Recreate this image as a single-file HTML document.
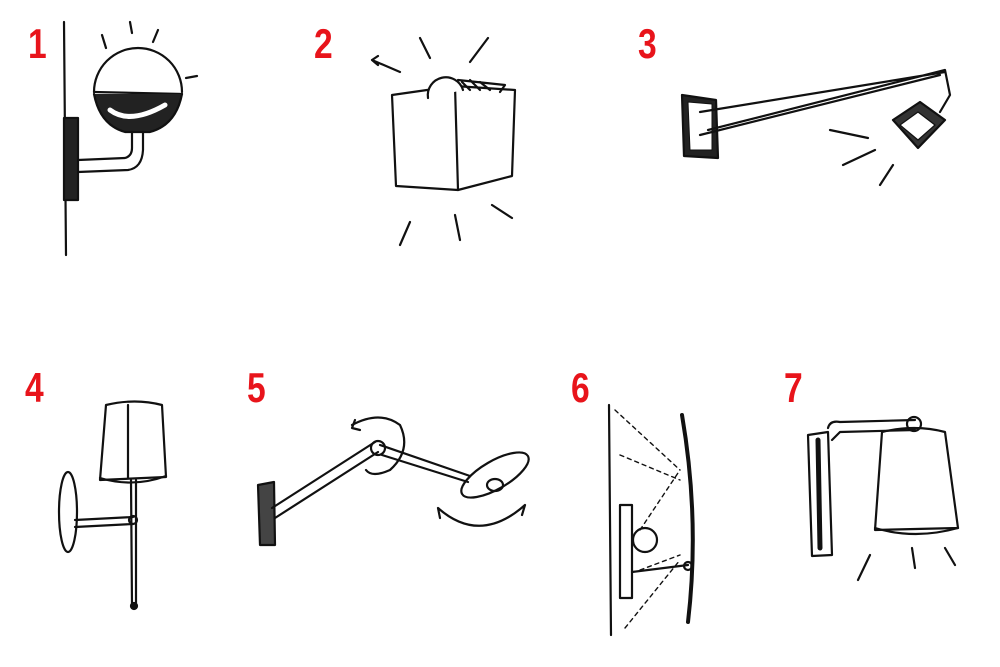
<!DOCTYPE html>
<html><head><meta charset="utf-8"><style>
html,body{margin:0;padding:0;background:#fff;width:1000px;height:667px;overflow:hidden}
svg{display:block}
.n{font-family:"Liberation Sans Narrow","Liberation Sans",sans-serif;font-weight:bold;font-size:42px;fill:#e8141b}
</style></head><body>
<svg width="1000" height="667" viewBox="0 0 1000 667" xmlns="http://www.w3.org/2000/svg">
<g class="n">
<text transform="translate(28,58) scale(0.8,1)">1</text>
<text transform="translate(314,58) scale(0.8,1)">2</text>
<text transform="translate(638,58) scale(0.8,1)">3</text>
<text transform="translate(25,402) scale(0.8,1)">4</text>
<text transform="translate(247,402) scale(0.8,1)">5</text>
<text transform="translate(571,402) scale(0.8,1)">6</text>
<text transform="translate(784,402) scale(0.8,1)">7</text>
</g>
<g fill="none" stroke="#111" stroke-width="2.2" stroke-linecap="round" stroke-linejoin="round">
<!-- Lamp 1 -->
<path d="M64 22 L66 255"/>
<path d="M94 92 A44 44 0 0 1 182 92"/>
<path d="M94 92 L182 94"/>
<path d="M94 94 Q100 125 125 132 L150 132 Q176 125 182 94" fill="#222"/>
<path d="M110 110 Q130 125 165 105" stroke="#fff" stroke-width="5"/>
<rect x="64" y="118" width="14" height="82" fill="#222"/>
<path d="M78 160 L125 158 Q132 156 132 148 L132 132"/>
<path d="M78 172 L128 170 Q142 168 143 150 L143 132"/>
<path d="M102 35 L106 48 M130 22 L132 33 M158 30 L153 42 M186 78 L197 76"/>
<!-- Lamp 2 -->
<path d="M392 95 L455 86 L458 190 L396 186 Z" fill="#fff"/>
<path d="M455 86 L515 90 L512 176 L458 190"/>
<path d="M428 98 A18 18 0 0 1 463 90" fill="#fff"/>
<path d="M458 80 L505 85 L500 92" />
<path d="M462 82 L470 90 M470 80 L480 90 M480 82 L490 90"/>
<path d="M372 60 L400 72 M372 60 L378 56 M372 60 L378 65 M420 38 L430 58 M488 38 L470 62 M410 222 L400 245 M455 215 L460 240 M492 205 L512 218"/>
<!-- Lamp 3 -->
<path d="M682 95 L716 100 L718 158 L684 156 Z" fill="#222"/>
<path d="M688 102 L712 104 L712 150 L690 150 Z" fill="#fff" stroke-width="1"/>
<path d="M700 112 L945 72 M700 135 L940 75 M708 130 L945 70 L950 95 L940 112"/>
<path d="M893 120 L920 102 L945 120 L918 148 Z" fill="#333"/>
<path d="M900 125 L918 112 L935 125 L918 140 Z" fill="#fff" stroke-width="1.2"/>
<path d="M830 130 L868 138 M843 165 L875 150 M880 185 L893 165"/>
<!-- Lamp 4 -->
<path d="M106 405 Q135 398 162 405 L166 477 L100 480 Z"/>
<path d="M100 478 Q133 488 166 476"/>
<path d="M128 405 L128 478"/>
<ellipse cx="68" cy="512" rx="9" ry="40"/>
<path d="M75 520 L133 517 M75 527 L133 524"/>
<circle cx="133" cy="520" r="4"/>
<path d="M131 480 L132 605 M136 480 L136 605"/>
<circle cx="134" cy="606" r="3" fill="#111"/>
<!-- Lamp 5 -->
<path d="M258 485 L274 482 L275 545 L260 545 Z" fill="#444"/>
<path d="M272 508 L375 442 M275 518 L378 452 M380 445 L470 476 M382 455 L468 482"/>
<circle cx="378" cy="448" r="7"/>
<ellipse cx="495" cy="475" rx="38" ry="14" transform="rotate(-30 495 475)"/>
<ellipse cx="495" cy="485" rx="8" ry="6"/>
<path d="M352 425 Q380 410 400 425 Q412 450 390 470 Q372 478 366 470"/>
<path d="M355 420 L352 428 L360 430"/>
<path d="M438 508 Q480 545 525 505 M438 508 L440 518 M525 505 L522 515"/>
<!-- Lamp 6 -->
<path d="M609 405 L611 635"/>
<path d="M682 415 Q700 520 688 622" stroke-width="4"/>
<path d="M620 505 L632 505 L632 598 L620 598 Z"/>
<circle cx="645" cy="540" r="12"/>
<path d="M632 572 L688 565"/>
<circle cx="688" cy="566" r="4"/>
<path d="M615 410 L680 470 M620 455 L680 480 M640 530 L680 470 M640 570 L680 555 M625 628 L680 560" stroke-dasharray="4 4" stroke-width="1.4"/>
<!-- Lamp 7 -->
<path d="M808 435 L828 432 L832 555 L812 556 Z"/>
<path d="M818 440 L820 548" stroke-width="5"/>
<path d="M828 428 Q830 420 840 422 L915 420 M832 440 L840 432 L915 430"/>
<circle cx="914" cy="424" r="7"/>
<path d="M882 432 Q915 424 945 432 L958 528 L875 530 Z"/>
<path d="M875 528 Q915 540 958 528"/>
<path d="M870 555 L858 580 M912 548 L915 568 M945 548 L955 565"/>
</g>
</svg>
</body></html>
